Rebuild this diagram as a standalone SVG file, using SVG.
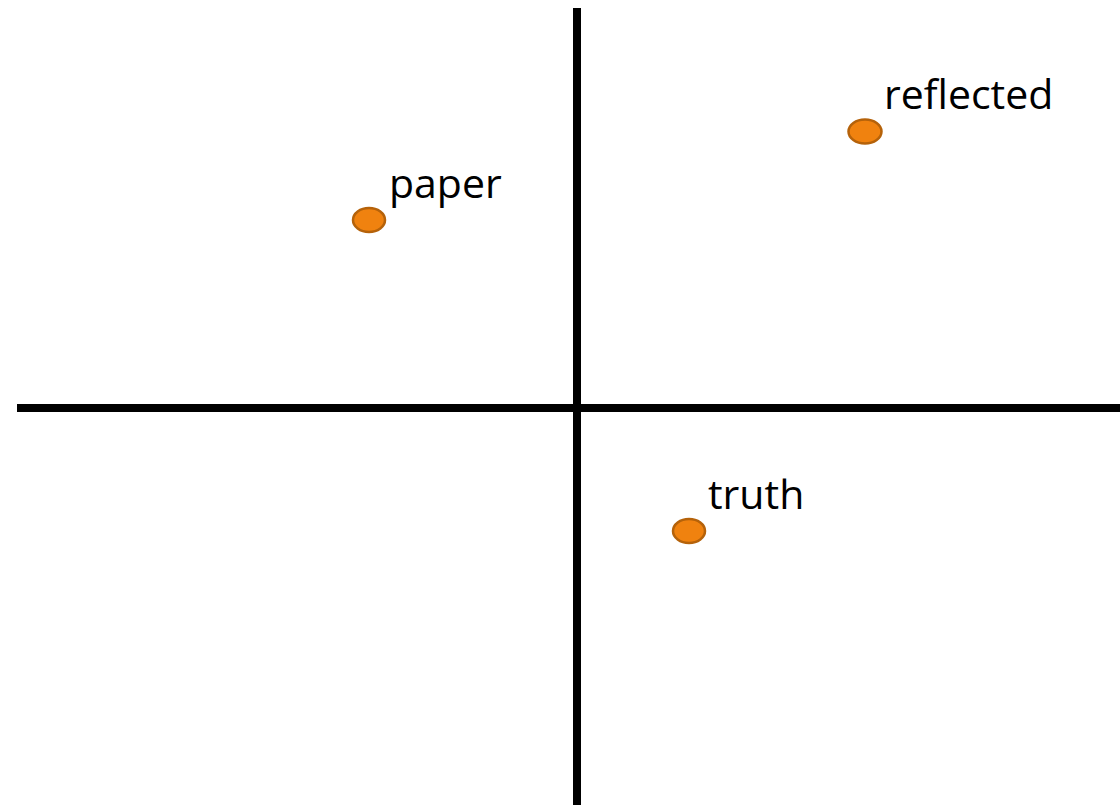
<svg xmlns="http://www.w3.org/2000/svg" width="1120" height="805" viewBox="0 0 1120 805">
  <style>
    .axis { stroke: #000000; stroke-width: 8; fill: none; }
    .dot { fill: #F0820F; stroke: #B5620A; stroke-width: 2.5; }
    .lbl { font-family: "Open Sans", "Noto Sans", "Liberation Sans", sans-serif; font-size: 41px; fill: #000000; }
  </style>
  <rect width="1120" height="805" fill="#FFFFFF"/>
  <g id="connectors">
    <line class="axis" x1="577" y1="8" x2="577" y2="805"/>
    <line class="axis" x1="17" y1="408" x2="1120" y2="408"/>
  </g>
  <g id="paper">
    <ellipse class="dot" cx="369" cy="220" rx="16" ry="12"/>
    <text class="lbl" x="389" y="198">paper</text>
  </g>
  <g id="reflected">
    <ellipse class="dot" cx="865" cy="131.5" rx="16.5" ry="12"/>
    <text class="lbl" x="884" y="109">reflected</text>
  </g>
  <g id="truth">
    <ellipse class="dot" cx="689" cy="531" rx="16" ry="12"/>
    <text class="lbl" x="708" y="509">truth</text>
  </g>
</svg>
